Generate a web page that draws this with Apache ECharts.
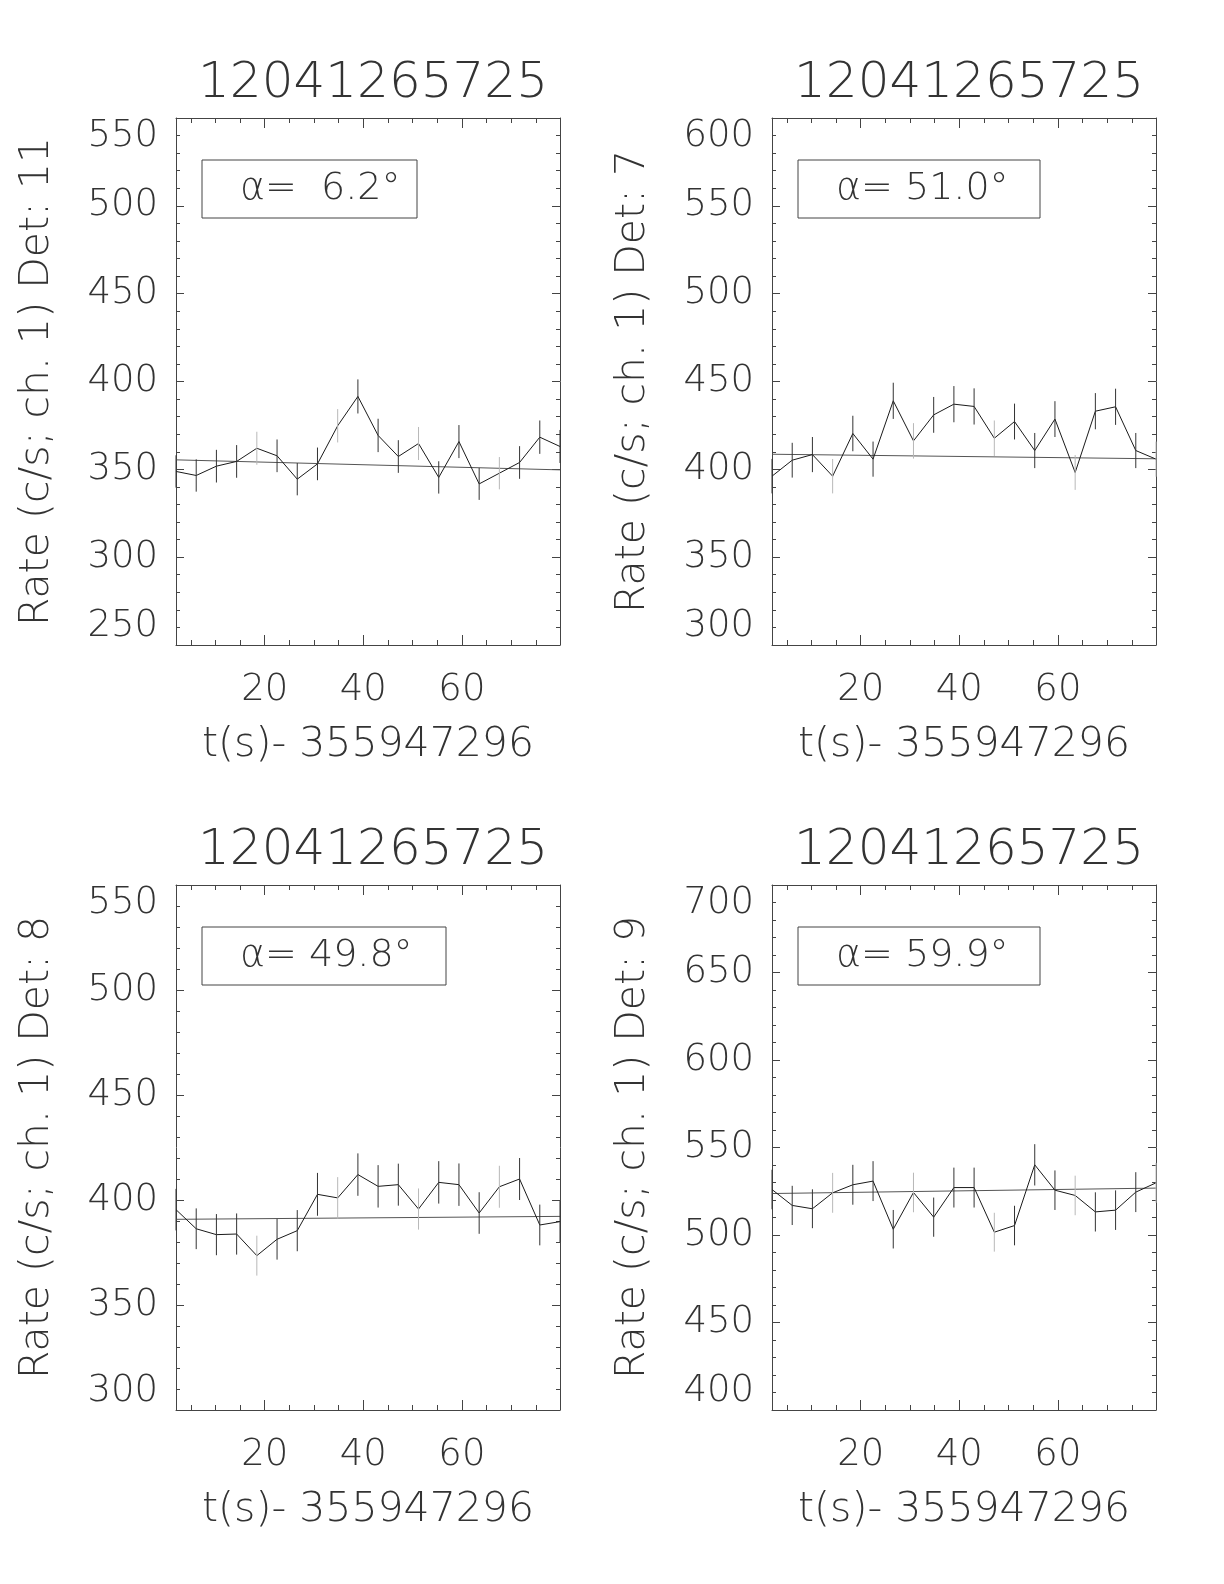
<!DOCTYPE html>
<html>
<head>
<meta charset="utf-8">
<script src="https://cdn.jsdelivr.net/npm/echarts@6/dist/echarts.min.js"></script>
<style>
html,body{margin:0;padding:0;background:#fff;}
#chart{width:1224px;height:1584px;}
</style>
</head>
<body>
<div id="chart"></div>
<script>
// ---- data ----
const obsTitle = '12041265725';
const xTitle = 't(s)- 355947296';
const t = [2.0, 6.1, 10.2, 14.3, 18.4, 22.5, 26.6, 30.7, 34.8, 38.9, 43.0, 47.1, 51.2, 55.3, 59.4, 63.5, 67.6, 71.7, 75.8, 79.9];
const xMajorTicks = [20, 40, 60];
const xMinorTicks = [5, 10, 15, 25, 30, 35, 45, 50, 55, 65, 70, 75];

const detNames = ['11', '7', '8', '9'];
const alphas = [6.2, 51.0, 49.8, 59.9];
const yMins = [250, 300, 300, 400];
const yMaxs = [550, 600, 550, 700];

const rateDet11 = [348.8, 346.5, 351.8, 354.5, 362.0, 357.7, 344.4, 353.1, 374.8, 391.5, 369.3, 357.3, 364.7, 345.4, 365.8, 341.7, 347.8, 353.9, 368.3, 363.0];
const errDet11  = [9.2, 9.2, 9.3, 9.3, 9.4, 9.3, 9.2, 9.3, 9.5, 9.7, 9.5, 9.3, 9.4, 9.2, 9.4, 9.1, 9.2, 9.3, 9.5, 9.4];
const fitDet11  = [355.4, 349.7];

const rateDet7 = [396.1, 405.2, 408.4, 396.1, 420.4, 405.8, 439.0, 416.2, 431.0, 437.1, 435.8, 417.7, 427.2, 410.7, 428.6, 398.2, 433.1, 435.6, 410.7, 405.8];
const errDet7  = [9.8, 9.9, 10.0, 9.8, 10.1, 10.0, 10.3, 10.1, 10.2, 10.3, 10.3, 10.1, 10.2, 10.0, 10.2, 9.9, 10.3, 10.3, 10.0, 10.0];
const fitDet7  = [408.6, 406.0];

const rateDet8 = [395.4, 386.3, 383.5, 383.8, 373.5, 381.3, 385.4, 402.7, 401.0, 412.1, 406.5, 407.3, 395.7, 408.4, 407.3, 393.8, 406.3, 410.0, 388.1, 389.7];
const errDet8  = [9.9, 9.7, 9.8, 9.8, 9.5, 9.7, 9.8, 10.2, 9.9, 10.1, 10.1, 10.0, 9.8, 10.1, 10.1, 9.9, 10.0, 10.0, 9.7, 9.8];
const fitDet8  = [390.8, 392.2];

const rateDet9 = [526.0, 516.9, 515.0, 524.1, 528.7, 530.8, 503.3, 524.3, 510.2, 527.1, 527.1, 501.6, 505.4, 540.1, 525.6, 522.6, 513.2, 514.2, 524.5, 529.8];
const errDet9  = [11.3, 11.2, 11.1, 11.4, 11.4, 11.4, 11.0, 11.3, 11.2, 11.4, 11.4, 11.1, 11.3, 11.8, 11.3, 11.3, 11.2, 11.3, 11.4, 11.4];
const fitDet9  = [523.7, 526.8];

const rates = [rateDet11, rateDet7, rateDet8, rateDet9];
const errs = [errDet11, errDet7, errDet8, errDet9];
const fits = [fitDet11, fitDet7, fitDet8, fitDet9];

// ---- layout / style ----
const FONT = 'DejaVu Sans';
const TXT = '#333';
const AX = '#444';
const grids = [
  {left: 176, top: 118, width: 384, height: 527},
  {left: 772, top: 118, width: 384, height: 527},
  {left: 176, top: 885, width: 384, height: 525},
  {left: 772, top: 885, width: 384, height: 525}
];
const lightPhase = [0, 3, 0, 3];
const labelStyle = {fontFamily: FONT, fontSize: 37, fontWeight: 200, color: TXT};
const nameStyle = {fontFamily: FONT, fontSize: 41, fontWeight: 200, color: TXT};

const tMin = t[0], tMax = t[t.length - 1];
const xAxis = [], yAxis = [], series = [], title = [], graphic = [];

grids.forEach((g, gi) => {
  const lineStyle = {color: AX, width: 1};
  // bottom major
  xAxis.push({gridIndex: gi, type: 'value', min: tMin, max: tMax, position: 'bottom',
    axisLine: {show: true, onZero: false, lineStyle},
    axisTick: {show: true, inside: true, length: 10, customValues: xMajorTicks, lineStyle},
    axisLabel: {show: true, customValues: xMajorTicks, margin: 27, ...labelStyle},
    splitLine: {show: false},
    name: xTitle, nameLocation: 'middle', nameGap: 80,
    nameTextStyle: {...nameStyle}
  });
  // bottom minor
  xAxis.push({gridIndex: gi, type: 'value', min: tMin, max: tMax, position: 'bottom',
    axisLine: {show: false, onZero: false},
    axisTick: {show: true, inside: true, length: 5, customValues: xMinorTicks, lineStyle},
    axisLabel: {show: false}, splitLine: {show: false}
  });
  // top major
  xAxis.push({gridIndex: gi, type: 'value', min: tMin, max: tMax, position: 'top',
    axisLine: {show: true, onZero: false, lineStyle},
    axisTick: {show: true, inside: true, length: 10, customValues: xMajorTicks, lineStyle},
    axisLabel: {show: false}, splitLine: {show: false}
  });
  // top minor
  xAxis.push({gridIndex: gi, type: 'value', min: tMin, max: tMax, position: 'top',
    axisLine: {show: false, onZero: false},
    axisTick: {show: true, inside: true, length: 5, customValues: xMinorTicks, lineStyle},
    axisLabel: {show: false}, splitLine: {show: false}
  });
  // left y
  yAxis.push({gridIndex: gi, type: 'value', min: yMins[gi], max: yMaxs[gi], interval: 50, position: 'left',
    axisLine: {show: true, onZero: false, lineStyle},
    axisTick: {show: true, inside: true, length: 8, lineStyle},
    minorTick: {show: true, splitNumber: 5, length: 4, lineStyle},
    axisLabel: {show: true, margin: 18, showMinLabel: true, showMaxLabel: true,
      verticalAlignMinLabel: 'bottom', verticalAlignMaxLabel: 'top', ...labelStyle},
    splitLine: {show: false}, minorSplitLine: {show: false},
    name: 'Rate (c/s; ch. 1) Det: ' + detNames[gi], nameLocation: 'middle', nameRotate: 90, nameGap: 118,
    nameTextStyle: {...nameStyle}
  });
  // right y
  yAxis.push({gridIndex: gi, type: 'value', min: yMins[gi], max: yMaxs[gi], interval: 50, position: 'right',
    axisLine: {show: true, onZero: false, lineStyle},
    axisTick: {show: true, inside: true, length: 8, lineStyle},
    minorTick: {show: true, splitNumber: 5, length: 4, lineStyle},
    axisLabel: {show: false}, splitLine: {show: false}
  });

  const xi = gi * 4, yi = gi * 2;
  series.push({type: 'line', xAxisIndex: xi, yAxisIndex: yi, symbol: 'none', z: 2,
    lineStyle: {color: '#555', width: 1},
    data: [[tMin, fits[gi][0]], [tMax, fits[gi][1]]]
  });
  series.push({type: 'line', xAxisIndex: xi, yAxisIndex: yi, symbol: 'none', z: 3,
    lineStyle: {color: '#1a1a1a', width: 1},
    data: t.map((x, i) => [x, rates[gi][i]])
  });
  series.push({type: 'custom', xAxisIndex: xi, yAxisIndex: yi, z: 4,
    data: t.map((x, i) => [x, rates[gi][i], errs[gi][i]]),
    renderItem: function (params, api) {
      const x = api.value(0), y = api.value(1), e = api.value(2);
      const p1 = api.coord([x, y - e]), p2 = api.coord([x, y + e]);
      const light = (params.dataIndex % 4) === lightPhase[gi] && params.dataIndex > 0;
      return {type: 'line', shape: {x1: p1[0], y1: p1[1], x2: p2[0], y2: p2[1]},
        style: {stroke: light ? '#b8b8b8' : '#333', lineWidth: 1}};
    }
  });

  title.push({text: obsTitle, left: g.left + g.width / 2, textAlign: 'center', top: g.top - 64,
    textStyle: {fontFamily: FONT, fontSize: 50, fontWeight: 200, color: TXT}});

  const boxW = [215, 242, 244, 242][gi];
  const bx = g.left + 26, by = g.top + 42;
  graphic.push({type: 'rect', shape: {x: bx, y: by, width: boxW, height: 58},
    style: {fill: 'none', stroke: AX, lineWidth: 1}, silent: true});
  const a = alphas[gi].toFixed(1);
  const pad = ' '.repeat(Math.max(1, 5 - a.length));
  graphic.push({type: 'text', x: bx + 38, y: by + 29, silent: true,
    style: {text: 'α=' + pad + a + '°', fontFamily: FONT, fontSize: 38, fontWeight: 200, fill: TXT,
      verticalAlign: 'middle'}});
});

const chart = echarts.init(document.getElementById('chart'), null, {renderer: 'canvas', width: 1224, height: 1584});
chart.setOption({
  backgroundColor: '#fff',
  animation: false,
  title, grid: grids, xAxis, yAxis, series, graphic
});
</script>
</body>
</html>
